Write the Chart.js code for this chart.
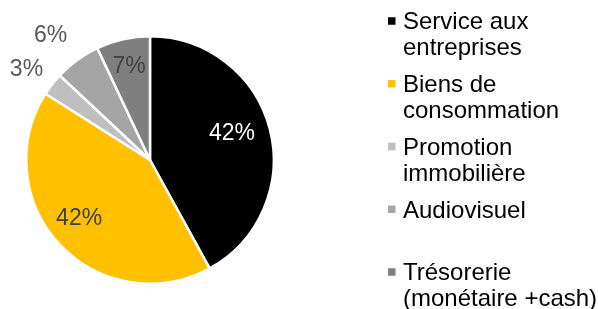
<!DOCTYPE html>
<html><head><meta charset="utf-8">
<script src="https://cdn.jsdelivr.net/npm/chart.js@4/dist/chart.umd.min.js"></script>
<style>html,body{margin:0;padding:0;background:#fff;overflow:hidden}</style>
</head><body>
<div style="width:598px;height:309px;position:relative"><canvas id="c" width="598" height="309"></canvas></div>
<script>
// ---- data ----
const categories = [
  ["Service aux", "entreprises"],
  ["Biens de", "consommation"],
  ["Promotion", "immobilière"],
  ["Audiovisuel"],
  ["Trésorerie", "(monétaire +cash)"]
];
const shares = [42, 42, 3, 6, 7];

// ---- styles ----
const sliceColors = ["#000000", "#FFC000", "#BFBFBF", "#A5A5A5", "#7F7F7F"];
const labelColors = ["#FFFFFF", "#404040", "#595959", "#595959", "#404040"];
const labelDist = [0.70, 0.735, 1.245, 1.30, 0.79];
const labelTurn = [-4.6, 4.4, -1.1, -2.2, 0.3];
const FONT = "'Liberation Sans', Arial, sans-serif";

const pctLabels = {
  id: 'pctLabels',
  afterDatasetsDraw(chart) {
    const ctx = chart.ctx;
    const meta = chart.getDatasetMeta(0);
    const vals = chart.data.datasets[0].data;
    const total = vals.reduce((a, b) => a + b, 0);
    ctx.save();
    ctx.font = "23px " + FONT;
    ctx.textAlign = 'center';
    ctx.textBaseline = 'alphabetic';
    meta.data.forEach((arc, i) => {
      const p = arc.getProps(['x', 'y', 'startAngle', 'endAngle', 'outerRadius'], true);
      const mid = (p.startAngle + p.endAngle) / 2 + labelTurn[i] * Math.PI / 180;
      const d = p.outerRadius * labelDist[i];
      const x = p.x + Math.cos(mid) * d;
      const y = p.y + Math.sin(mid) * d;
      ctx.fillStyle = labelColors[i];
      ctx.fillText(Math.round(vals[i] / total * 100) + '%', x, y + 23 * 0.358);
    });
    ctx.restore();
  }
};

const sideLegend = {
  id: 'sideLegend',
  afterDraw(chart) {
    const ctx = chart.ctx;
    const labels = chart.data.labels;
    const colors = chart.data.datasets[0].backgroundColor;
    const size = 24, lineGap = 26, slot = 62.75, firstBase = 29.3;
    const boxX = 388, box = 7.5, textX = 403;
    ctx.save();
    ctx.font = size + "px " + FONT;
    ctx.textAlign = 'left';
    ctx.textBaseline = 'alphabetic';
    labels.forEach((lab, i) => {
      const base = firstBase + i * slot;
      ctx.fillStyle = colors[i];
      ctx.fillRect(boxX, base - 8.3 - box / 2, box, box);
      ctx.fillStyle = '#000000';
      const lines = Array.isArray(lab) ? lab : [lab];
      lines.forEach((t, j) => ctx.fillText(t, textX, base + j * lineGap));
    });
    ctx.restore();
  }
};

new Chart(document.getElementById('c'), {
  type: 'pie',
  data: {
    labels: categories,
    datasets: [{
      data: shares,
      backgroundColor: sliceColors,
      borderColor: '#FFFFFF',
      borderWidth: 2.5
    }]
  },
  options: {
    responsive: false,
    animation: false,
    layout: { padding: { left: 25, right: 323, top: 34, bottom: 23 } },
    plugins: { legend: { display: false }, tooltip: { enabled: false } }
  },
  plugins: [pctLabels, sideLegend]
});
</script>
</body></html>
